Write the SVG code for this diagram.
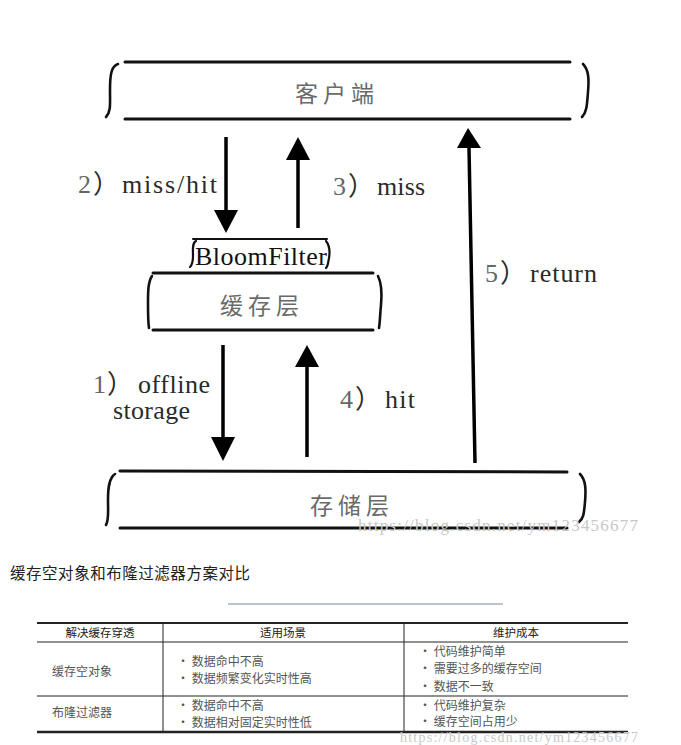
<svg xmlns="http://www.w3.org/2000/svg" width="681" height="745" viewBox="0 0 681 745">
<defs>
<style>
.ln{stroke:#111;stroke-width:3;fill:none;stroke-linecap:round}
.br{stroke:#111;stroke-width:2.6;fill:none;stroke-linecap:round}
.sh{stroke:#000;stroke-width:3.5;fill:none}
.cn{font-family:"Noto Sans CJK SC","Noto Sans CJK TC",sans-serif;fill:#6a6a6a;font-size:23px;letter-spacing:5px;text-anchor:middle}
.lb{font-family:"Liberation Serif","Noto Sans CJK SC",serif;fill:#2a2a2a;font-size:26px}
.dg{fill:#666}
.tb{font-family:"Noto Sans CJK SC","Noto Sans CJK TC",sans-serif;fill:#555;font-size:12px}
.th{font-family:"Noto Sans CJK SC","Noto Sans CJK TC",sans-serif;fill:#222;font-size:11.5px;text-anchor:middle}
.wm{font-family:"Liberation Serif",serif;fill:#c8c8c8;font-size:17px}
.tl{stroke:#222;stroke-width:1}
</style>
</defs>
<rect width="681" height="745" fill="#fff"/>

<g id="client">
<line class="ln" x1="125" y1="62" x2="570" y2="62"/>
<line class="ln" x1="125" y1="119" x2="570" y2="119"/>
<path class="br" d="M118,64 C111,66 110,76 110,90 C110,104 111,112 106,117"/>
<path class="br" d="M583,64 C589,70 589,80 588,92 C587,104 587,112 582,117"/>
<text class="cn" x="337" y="102">客户端</text>
</g>

<g id="bloomfilter">
<line class="br" x1="193" y1="239" x2="327" y2="239" style="stroke-width:2"/>
<path class="br" d="M196,241 C192,243 193,250 193,256 C193,261 192,265 190,267" style="stroke-width:2.2"/>
<path class="br" d="M326,241 C330,246 330,252 329,258 C328,263 328,266 326,268" style="stroke-width:2.2"/>
<text class="lb" x="195" y="265" textLength="132" style="fill:#111">BloomFilter</text>
</g>

<g id="cache">
<line class="ln" x1="153" y1="273" x2="373" y2="273"/>
<line class="ln" x1="153" y1="330" x2="373" y2="330"/>
<path class="br" d="M152,276 C148,282 148,292 148,303 C148,314 148,322 149,328"/>
<path class="br" d="M378,276 C382,284 382,294 381,305 C380,315 380,322 379,328"/>
<text class="cn" x="262" y="314">缓存层</text>
</g>

<g id="storage">
<line class="ln" x1="120" y1="471" x2="567" y2="472"/>
<line class="ln" x1="120" y1="528" x2="567" y2="528"/>
<path class="br" d="M115,474 C109,478 108,488 108,500 C108,512 109,520 106,525"/>
<path class="br" d="M580,474 C586,480 586,490 585,502 C584,512 584,518 579,522"/>
<text class="cn" x="352" y="514">存储层</text>
</g>

<g id="connectors">
<line class="sh" x1="226" y1="137" x2="226" y2="212"/>
<path d="M214,210 L238,210 L226,233 Z" fill="#000"/>
<line class="sh" x1="298" y1="228" x2="298" y2="158"/>
<path d="M286,160 L310,160 L298,137 Z" fill="#000"/>
<line class="sh" x1="223" y1="345" x2="223" y2="440"/>
<path d="M211,437 L235,437 L223,461 Z" fill="#000"/>
<line class="sh" x1="307" y1="457" x2="307" y2="365"/>
<path d="M295,367 L319,367 L307,345 Z" fill="#000"/>
<line class="sh" x1="475" y1="463" x2="469" y2="148"/>
<path d="M457,148 L481,148 L468,128 Z" fill="#000"/>
</g>

<g id="labels">
<text class="lb"><tspan class="dg" x="78" y="193">2</tspan><tspan x="93" y="193">）</tspan><tspan x="122" y="193" textLength="95">miss/hit</tspan></text>
<text class="lb"><tspan class="dg" x="333" y="195">3</tspan><tspan x="348" y="195">）</tspan><tspan x="377" y="195" textLength="48">miss</tspan></text>
<text class="lb"><tspan class="dg" x="93" y="393">1</tspan><tspan x="107" y="393">）</tspan><tspan x="138" y="393" textLength="72">offline</tspan></text>
<text class="lb" x="113" y="419" textLength="77">storage</text>
<text class="lb"><tspan class="dg" x="340" y="408">4</tspan><tspan x="355" y="408">）</tspan><tspan x="385" y="408" textLength="30">hit</tspan></text>
<text class="lb"><tspan class="dg" x="485" y="282">5</tspan><tspan x="500" y="282">）</tspan><tspan x="530" y="282" textLength="67">return</tspan></text>
<text class="wm" x="358" y="531" textLength="280">https://blog.csdn.net/ym123456677</text>
</g>

<g id="caption">
<text x="10" y="579" style="font-family:'Noto Sans CJK SC',sans-serif;font-size:15.5px;fill:#222" textLength="240">缓存空对象和布隆过滤器方案对比</text>
<line x1="228" y1="604" x2="503" y2="604" style="stroke:#b9c4cf;stroke-width:2"/>
</g>

<g id="table">
<line class="tl" x1="37" y1="623" x2="628" y2="623" style="stroke-width:2"/>
<line class="tl" x1="37" y1="642" x2="628" y2="642"/>
<line class="tl" x1="37" y1="696" x2="628" y2="696"/>
<line class="tl" x1="37" y1="732" x2="628" y2="732" style="stroke-width:2.5"/>
<line class="tl" x1="163" y1="623" x2="163" y2="732"/>
<line class="tl" x1="404" y1="623" x2="404" y2="732"/>
<text class="th" x="100" y="637">解决缓存穿透</text>
<text class="th" x="283" y="637">适用场景</text>
<text class="th" x="516" y="637">维护成本</text>
<text class="tb" x="52" y="676">缓存空对象</text>
<text class="tb" x="52" y="717">布隆过滤器</text>
<text class="tb" x="177" y="666">• 数据命中不高</text>
<text class="tb" x="177" y="683">• 数据频繁变化实时性高</text>
<text class="tb" x="177" y="710">• 数据命中不高</text>
<text class="tb" x="177" y="727">• 数据相对固定实时性低</text>
<text class="tb" x="419" y="656">• 代码维护简单</text>
<text class="tb" x="419" y="673">• 需要过多的缓存空间</text>
<text class="tb" x="419" y="691">• 数据不一致</text>
<text class="tb" x="419" y="710">• 代码维护复杂</text>
<text class="tb" x="419" y="726">• 缓存空间占用少</text>
<text class="wm" x="400" y="742" textLength="238" style="font-size:14px">https://blog.csdn.net/ym123456677</text>
</g>
</svg>
